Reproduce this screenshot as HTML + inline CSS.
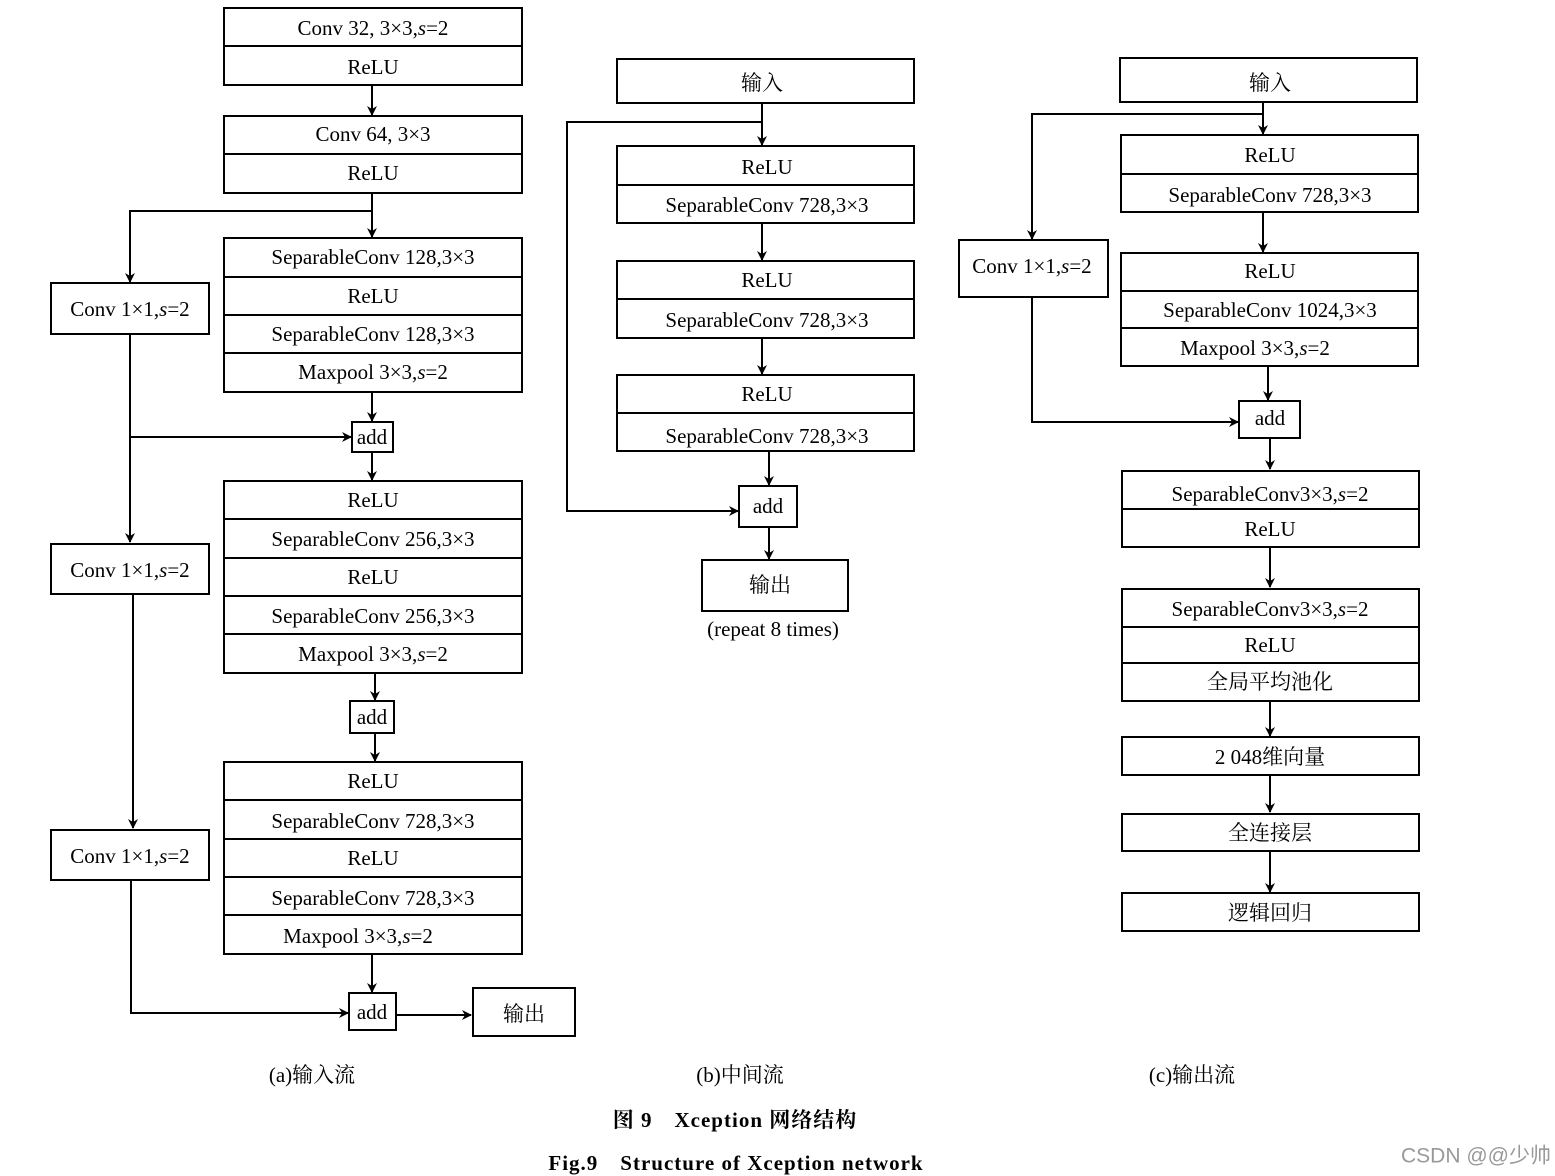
<!DOCTYPE html>
<html><head><meta charset="utf-8"><style>
html,body{margin:0;padding:0;background:#fff;}
svg{display:block;}
text{font-family:"Liberation Serif","Noto Serif CJK SC","Noto Sans CJK SC",serif;font-size:21px;fill:#000;text-anchor:middle;dominant-baseline:central;}
rect{fill:#fff;stroke:#000;stroke-width:2;}
line,polyline{stroke:#000;stroke-width:2;fill:none;}
</style></head><body>
<svg width="1555" height="1176" viewBox="0 0 1555 1176" xmlns="http://www.w3.org/2000/svg">
<defs><marker id="a" markerWidth="10" markerHeight="10" refX="9" refY="5" orient="auto" markerUnits="userSpaceOnUse"><path d="M0,0 L10,5 L0,10 L3,5 z" fill="#000"/></marker></defs>

<!-- Column a -->
<rect x="224" y="8" width="298" height="77"/><line x1="224" y1="46" x2="522" y2="46"/>
<text x="373" y="28">Conv 32, 3×3,<tspan font-style="italic">s</tspan>=2</text><text x="373" y="67">ReLU</text>
<line x1="372" y1="85" x2="372" y2="115" marker-end="url(#a)"/>
<rect x="224" y="116" width="298" height="77"/><line x1="224" y1="154" x2="522" y2="154"/>
<text x="373" y="134">Conv 64, 3×3</text><text x="373" y="173">ReLU</text>
<line x1="372" y1="193" x2="372" y2="237" marker-end="url(#a)"/>
<polyline points="372,211 130,211 130,282" marker-end="url(#a)"/>
<rect x="224" y="238" width="298" height="154"/>
<line x1="224" y1="277" x2="522" y2="277"/><line x1="224" y1="315" x2="522" y2="315"/><line x1="224" y1="353" x2="522" y2="353"/>
<text x="373" y="257">SeparableConv 128,3×3</text><text x="373" y="296">ReLU</text><text x="373" y="334">SeparableConv 128,3×3</text><text x="373" y="372">Maxpool 3×3,<tspan font-style="italic">s</tspan>=2</text>
<rect x="51" y="283" width="158" height="51"/><text x="130" y="309">Conv 1×1,<tspan font-style="italic">s</tspan>=2</text>
<line x1="372" y1="392" x2="372" y2="421" marker-end="url(#a)"/>
<rect x="352" y="422" width="41" height="30"/><text x="372" y="437">add</text>
<line x1="130" y1="334" x2="130" y2="542" marker-end="url(#a)"/>
<line x1="130" y1="437" x2="351" y2="437" marker-end="url(#a)"/>
<line x1="372" y1="452" x2="372" y2="480" marker-end="url(#a)"/>
<rect x="224" y="481" width="298" height="192"/>
<line x1="224" y1="519" x2="522" y2="519"/><line x1="224" y1="558" x2="522" y2="558"/><line x1="224" y1="596" x2="522" y2="596"/><line x1="224" y1="634" x2="522" y2="634"/>
<text x="373" y="500">ReLU</text><text x="373" y="539">SeparableConv 256,3×3</text><text x="373" y="577">ReLU</text><text x="373" y="616">SeparableConv 256,3×3</text><text x="373" y="654">Maxpool 3×3,<tspan font-style="italic">s</tspan>=2</text>
<rect x="51" y="544" width="158" height="50"/><text x="130" y="570">Conv 1×1,<tspan font-style="italic">s</tspan>=2</text>
<line x1="375" y1="673" x2="375" y2="700" marker-end="url(#a)"/>
<rect x="350" y="701" width="44" height="32"/><text x="372" y="717">add</text>
<line x1="375" y1="733" x2="375" y2="761" marker-end="url(#a)"/>
<rect x="224" y="762" width="298" height="192"/>
<line x1="224" y1="800" x2="522" y2="800"/><line x1="224" y1="839" x2="522" y2="839"/><line x1="224" y1="877" x2="522" y2="877"/><line x1="224" y1="915" x2="522" y2="915"/>
<text x="373" y="781">ReLU</text><text x="373" y="821">SeparableConv 728,3×3</text><text x="373" y="858">ReLU</text><text x="373" y="898">SeparableConv 728,3×3</text><text x="358" y="936">Maxpool 3×3,<tspan font-style="italic">s</tspan>=2</text>
<line x1="133" y1="594" x2="133" y2="828" marker-end="url(#a)"/>
<rect x="51" y="830" width="158" height="50"/><text x="130" y="856">Conv 1×1,<tspan font-style="italic">s</tspan>=2</text>
<polyline points="131,880 131,1013 348,1013" marker-end="url(#a)"/>
<line x1="372" y1="954" x2="372" y2="992" marker-end="url(#a)"/>
<rect x="349" y="993" width="47" height="37"/><text x="372" y="1012">add</text>
<line x1="396" y1="1015" x2="471" y2="1015" marker-end="url(#a)"/>
<rect x="473" y="988" width="102" height="48"/><text x="524" y="1014">输出</text>

<!-- Column b -->
<rect x="617" y="59" width="297" height="44"/><text x="762" y="83">输入</text>
<line x1="762" y1="103" x2="762" y2="145" marker-end="url(#a)"/>
<polyline points="762,122 567,122 567,511 738,511" marker-end="url(#a)"/>
<rect x="617" y="146" width="297" height="77"/><line x1="617" y1="185" x2="914" y2="185"/>
<text x="767" y="167">ReLU</text><text x="767" y="205">SeparableConv 728,3×3</text>
<line x1="762" y1="223" x2="762" y2="260" marker-end="url(#a)"/>
<rect x="617" y="261" width="297" height="77"/><line x1="617" y1="299" x2="914" y2="299"/>
<text x="767" y="280">ReLU</text><text x="767" y="320">SeparableConv 728,3×3</text>
<line x1="762" y1="338" x2="762" y2="374" marker-end="url(#a)"/>
<rect x="617" y="375" width="297" height="76"/><line x1="617" y1="413" x2="914" y2="413"/>
<text x="767" y="394">ReLU</text><text x="767" y="436">SeparableConv 728,3×3</text>
<line x1="769" y1="451" x2="769" y2="485" marker-end="url(#a)"/>
<rect x="739" y="486" width="58" height="41"/><text x="768" y="506">add</text>
<line x1="769" y1="527" x2="769" y2="559" marker-end="url(#a)"/>
<rect x="702" y="560" width="146" height="51"/><text x="770" y="585">输出</text>
<text x="773" y="629">(repeat 8 times)</text>

<!-- Column c -->
<rect x="1120" y="58" width="297" height="44"/><text x="1270" y="83">输入</text>
<line x1="1263" y1="102" x2="1263" y2="134" marker-end="url(#a)"/>
<polyline points="1263,114 1032,114 1032,239" marker-end="url(#a)"/>
<rect x="1121" y="135" width="297" height="77"/><line x1="1121" y1="174" x2="1418" y2="174"/>
<text x="1270" y="155">ReLU</text><text x="1270" y="195">SeparableConv 728,3×3</text>
<rect x="959" y="240" width="149" height="57"/><text x="1032" y="266">Conv 1×1,<tspan font-style="italic">s</tspan>=2</text>
<line x1="1263" y1="212" x2="1263" y2="252" marker-end="url(#a)"/>
<rect x="1121" y="253" width="297" height="113"/><line x1="1121" y1="291" x2="1418" y2="291"/><line x1="1121" y1="328" x2="1418" y2="328"/>
<text x="1270" y="271">ReLU</text><text x="1270" y="310">SeparableConv 1024,3×3</text><text x="1255" y="348">Maxpool 3×3,<tspan font-style="italic">s</tspan>=2</text>
<line x1="1268" y1="366" x2="1268" y2="400" marker-end="url(#a)"/>
<rect x="1239" y="401" width="61" height="37"/><text x="1270" y="418">add</text>
<polyline points="1032,297 1032,422 1238,422" marker-end="url(#a)"/>
<line x1="1270" y1="438" x2="1270" y2="469" marker-end="url(#a)"/>
<rect x="1122" y="471" width="297" height="76"/><line x1="1122" y1="509" x2="1419" y2="509"/>
<text x="1270" y="494">SeparableConv3×3,<tspan font-style="italic">s</tspan>=2</text><text x="1270" y="529">ReLU</text>
<line x1="1270" y1="547" x2="1270" y2="587" marker-end="url(#a)"/>
<rect x="1122" y="589" width="297" height="112"/><line x1="1122" y1="627" x2="1419" y2="627"/><line x1="1122" y1="663" x2="1419" y2="663"/>
<text x="1270" y="609">SeparableConv3×3,<tspan font-style="italic">s</tspan>=2</text><text x="1270" y="645">ReLU</text><text x="1270" y="682">全局平均池化</text>
<line x1="1270" y1="701" x2="1270" y2="736" marker-end="url(#a)"/>
<rect x="1122" y="737" width="297" height="38"/><text x="1270" y="757">2 048维向量</text>
<line x1="1270" y1="775" x2="1270" y2="812" marker-end="url(#a)"/>
<rect x="1122" y="814" width="297" height="37"/><text x="1270" y="833">全连接层</text>
<line x1="1270" y1="851" x2="1270" y2="892" marker-end="url(#a)"/>
<rect x="1122" y="893" width="297" height="38"/><text x="1270" y="913">逻辑回归</text>

<!-- Captions -->
<text x="312" y="1075">(a)输入流</text>
<text x="740" y="1075">(b)中间流</text>
<text x="1192" y="1075">(c)输出流</text>
<text x="735" y="1120" font-weight="bold" font-size="24" letter-spacing="1">图 9　Xception 网络结构</text>
<text x="736" y="1163" font-weight="bold" font-size="24" letter-spacing="1">Fig.9　Structure of Xception network</text>
<text x="1476" y="1156" font-size="18" style="font-family:'Liberation Sans','Noto Sans CJK SC',sans-serif;fill:#999">CSDN @@少帅</text>
</svg>
</body></html>
